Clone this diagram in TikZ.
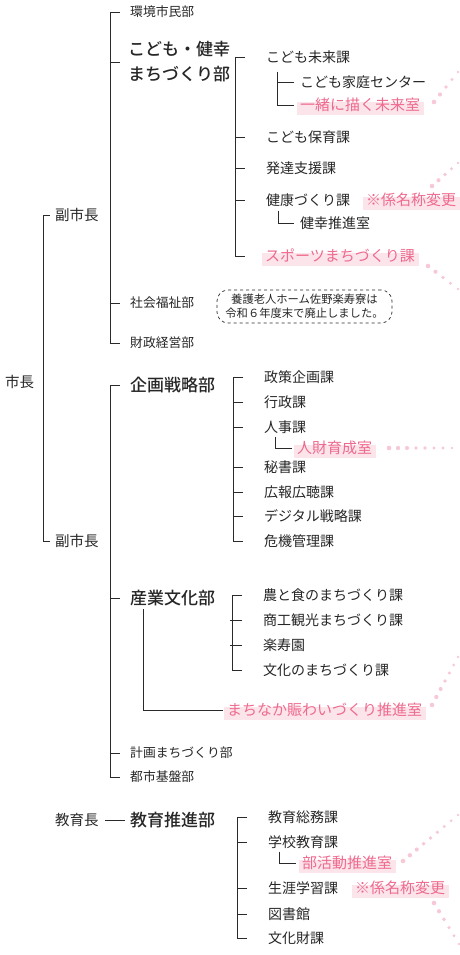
\documentclass[tikz,border=0pt]{standalone}
\usepackage{fontspec}
\setmainfont{Noto Sans CJK JP}[BoldFont={* Medium}]
\usetikzlibrary{calc,backgrounds}
\definecolor{lnc}{HTML}{2A2A2A}
\definecolor{txc}{HTML}{262626}
\definecolor{pkc}{HTML}{EE6A8E}
\definecolor{hlc}{HTML}{FCE4EB}
\definecolor{dtc}{HTML}{F7C9D6}
\newcommand\hlt[1]{\begin{scope}[on background layer]\fill[hlc] ($(#1.west)+(-3,-3)$) rectangle ($(#1.east)+(4,10)$);\end{scope}}
\newcommand\pdots[3]{\foreach \i in {0,...,#3}{\pgfmathsetmacro\pdt{\i/#3}\pgfmathsetmacro\prr{2.3-0.9*\i/#3}\fill[dtc] ($(#1)!\pdt!(#2)$) circle[radius=\prr pt];}}
\begin{document}
\begin{tikzpicture}[x=1pt,y=-1pt,
  every node/.style={inner sep=0pt, anchor=west, text=txc},
  lv/.style={font=\fontsize{14.5}{16}\selectfont},
  bu/.style={font=\fontsize{12.8}{14}\selectfont},
  bub/.style={font=\bfseries\fontsize{17}{25}\selectfont},
  ka/.style={font=\fontsize{14}{16}\selectfont},
  pkt/.style={font=\fontsize{15}{17}\selectfont, text=pkc},
  tr/.style={draw=lnc, line width=0.9pt},
]
\useasboundingbox (0,0) rectangle (459,955);

% ---------- top level
\node[lv] (mayor) at (5,382) {市長};
\node[lv] (vm1) at (55,215) {副市長};
\node[lv] (vm2) at (55,541) {副市長};
\draw[tr] ([xshift=-5pt]vm1.west) -- ++(-7,0) |- ([xshift=-5pt]vm2.west);

% ---------- upper vice mayor
\node[bu] (dkan) at (130,12) {環境市民部};
\node[bub, align=left] (dkod) at (128,62) {こども・健幸\\まちづくり部};
\node[bu] (dsha) at (130,303) {社会福祉部};
\node[bu] (dzai) at (130,343) {財政経営部};
\draw[tr] ([xshift=-10pt]dkan.west) -- ++(-10,0) |- ([xshift=-10pt]dzai.west);
\draw[tr] ([xshift=-8pt]dkod.west) -- ++(-10,0);
\draw[tr] ([xshift=-10pt]dsha.west) -- ++(-10,0);

\node[draw=lnc, dashed, line width=0.7pt, rounded corners=11pt, minimum width=175pt, minimum height=33pt,
      anchor=center, align=center, font=\fontsize{11.3}{14}\selectfont] (note) at (304.5,306.5)
      {養護老人ホーム佐野楽寿寮は\\令和６年度末で廃止しました。};

% children of kodomo
\node[ka] (k1) at (266,57) {こども未来課};
\node[ka] (k1a) at (300,82) {こども家庭センター};
\node[pkt] (k1b) at (300,105) {一緒に描く未来室};
\node[ka] (k2) at (266,137) {こども保育課};
\node[ka] (k3) at (266,168) {発達支援課};
\node[ka] (k4) at (266,200) {健康づくり課};
\node[pkt] (k4n) at (366,200) {※係名称変更};
\node[ka] (k4a) at (300,223) {健幸推進室};
\node[pkt] (k5) at (265,256) {スポーツまちづくり課};
\hlt{k1b}\hlt{k4n}\hlt{k5}
\draw[tr] ([xshift=-21pt]k1.west) -- ++(-10,0) |- ([xshift=-20pt]k5.west);
\foreach \n in {k2,k3,k4}{\draw[tr] ([xshift=-21pt]\n.west) -- ++(-10,0);}
\draw[tr] ($(k1.south west)+(11,8)$) |- ([xshift=-6pt]k1b.west);
\draw[tr] ([xshift=-6pt]k1a.west) -- ++(-17,0);
\draw[tr] ($(k4.south west)+(12,4)$) |- ([xshift=-6pt]k4a.west);

% ---------- lower vice mayor
\node[bub] (dkik) at (130,385) {企画戦略部};
\node[bub] (dsan) at (130,598) {産業文化部};
\node[bu] (dkei) at (130,753) {計画まちづくり部};
\node[bu] (dtos) at (130,777) {都市基盤部};
\draw[tr] ([xshift=-10pt]dkik.west) -- ++(-10,0) |- ([xshift=-10pt]dtos.west);
\draw[tr] ([xshift=-10pt]dsan.west) -- ++(-10,0);
\draw[tr] ([xshift=-10pt]dkei.west) -- ++(-10,0);

\node[ka] (c1) at (264,377) {政策企画課};
\node[ka] (c2) at (264,402) {行政課};
\node[ka] (c3) at (264,427) {人事課};
\node[pkt] (c3a) at (297,448) {人財育成室};
\node[ka] (c4) at (264,467) {秘書課};
\node[ka] (c5) at (264,492) {広報広聴課};
\node[ka] (c6) at (264,516) {デジタル戦略課};
\node[ka] (c7) at (264,541) {危機管理課};
\hlt{c3a}
\draw[tr] ([xshift=-21pt]c1.west) -- ++(-10,0) |- ([xshift=-21pt]c7.west);
\foreach \n in {c2,c3,c4,c5,c6}{\draw[tr] ([xshift=-21pt]\n.west) -- ++(-10,0);}
\draw[tr] ($(c3.south west)+(11,3)$) |- ([xshift=-5pt]c3a.west);

\node[ka] (s1) at (263,595) {農と食のまちづくり課};
\node[ka] (s2) at (263,620) {商工観光まちづくり課};
\node[ka] (s3) at (263,645) {楽寿園};
\node[ka] (s4) at (263,670) {文化のまちづくり課};
\node[pkt] (s5) at (227,710) {まちなか賑わいづくり推進室};
\hlt{s5}
\draw[tr] ([xshift=-21pt]s1.west) -- ++(-10,0) |- ([xshift=-21pt]s4.west);
\foreach \n in {s2,s3}{\draw[tr] ([xshift=-21pt]\n.west) -- ++(-12,0);}
\draw[tr] ($(dsan.south west)+(13,3)$) |- ([xshift=-4pt]s5.west);

% ---------- education
\node[lv] (edu) at (55,820) {教育長};
\node[bub] (dkyo) at (130,820) {教育推進部};
\draw[tr] (edu.east) ++(6,0) -- ([xshift=-5pt]dkyo.west);

\node[ka] (e1) at (268,817) {教育総務課};
\node[ka] (e2) at (268,842) {学校教育課};
\node[pkt] (e2a) at (302,863) {部活動推進室};
\node[ka] (e3) at (268,888) {生涯学習課};
\node[pkt] (e3n) at (355,888) {※係名称変更};
\node[ka] (e4) at (268,914) {図書館};
\node[ka] (e5) at (268,938) {文化財課};
\hlt{e2a}\hlt{e3n}
\draw[tr] ([xshift=-21pt]e1.west) -- ++(-10,0) |- ([xshift=-21pt]e5.west);
\foreach \n in {e2,e3,e4}{\draw[tr] ([xshift=-21pt]\n.west) -- ++(-10,0);}
\draw[tr] ($(e2.south west)+(11,3)$) |- ([xshift=-6pt]e2a.west);

% ---------- pink dotted leaders
\coordinate (p1a) at (434,102); \coordinate (p1b) at (458,72);
\coordinate (p2a) at (432,186); \coordinate (p2b) at (458,163);
\coordinate (p3a) at (428,266); \coordinate (p3b) at (458,289);
\coordinate (p4a) at (389,448); \coordinate (p4b) at (452,448);
\coordinate (p5a) at (432,705); \coordinate (p5b) at (458,657);
\coordinate (p6a) at (403,861); \coordinate (p6b) at (458,815);
\coordinate (p7a) at (434,903); \coordinate (p7b) at (459,944);
\pdots{p1a}{p1b}{4}
\pdots{p2a}{p2b}{4}
\pdots{p3a}{p3b}{4}
\pdots{p4a}{p4b}{7}
\pdots{p5a}{p5b}{6}
\pdots{p6a}{p6b}{8}
\pdots{p7a}{p7b}{5}
\end{tikzpicture}
\end{document}
